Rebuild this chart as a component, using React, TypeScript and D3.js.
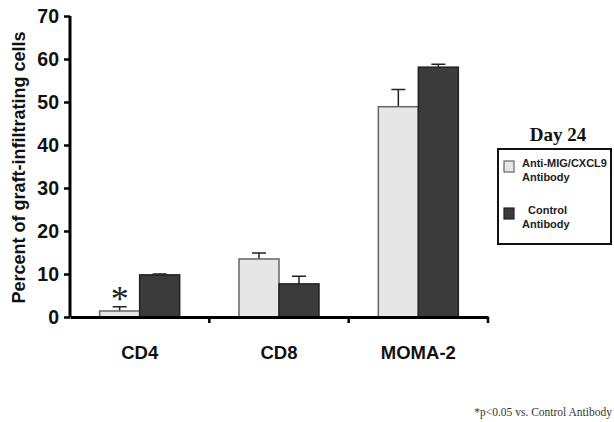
import React, { useRef, useEffect } from "react"
import * as d3 from "d3"

const categories = ["CD4", "CD8", "MOMA-2"]
const seriesNames = ["Anti-MIG/CXCL9 Antibody", "Control Antibody"]
const antiValues = [1.4, 13.5, 48.9]
const antiErrors = [1.0, 1.4, 4.0]
const controlValues = [9.8, 7.7, 58.1]
const controlErrors = [0.2, 1.8, 0.7]
const yTicks = [0, 10, 20, 30, 40, 50, 60, 70]

const colors = ["#e6e6e6", "#3b3b3b"]
const strokes = ["#666", "#222"]

function App() {
  const ref = useRef<SVGSVGElement>(null)

  useEffect(() => {
    const svg = d3.select(ref.current)
    svg.selectAll("*").remove()

    const margin = { left: 70, top: 16, right: 124, bottom: 105 }
    const width = 614
    const height = 422

    const x = d3
      .scaleBand()
      .domain(categories)
      .range([margin.left, 488])
      .paddingInner(0)
      .paddingOuter(0)

    const y = d3
      .scaleLinear()
      .domain([0, 70])
      .range([height - margin.bottom, margin.top])

    const barW = 40

    const rows = categories.map((c, i) => ({
      cat: c,
      vals: [
        { k: 0, v: antiValues[i], e: antiErrors[i] },
        { k: 1, v: controlValues[i], e: controlErrors[i] },
      ],
    }))

    const groups = svg
      .append("g")
      .selectAll("g")
      .data(rows)
      .join("g")
      .attr("transform", d => `translate(${x(d.cat)! + x.bandwidth() / 2 - barW},0)`)

    // error bars, upper half only
    groups
      .selectAll("path.err")
      .data(d => d.vals)
      .join("path")
      .attr("class", "err")
      .attr("d", d => {
        const cx = d.k * barW + barW / 2
        const top = y(d.v + d.e)
        return `M${cx},${y(d.v)}V${top}M${cx - 7},${top}H${cx + 7}`
      })
      .attr("stroke", "#222")
      .attr("stroke-width", 1.5)
      .attr("fill", "none")

    groups
      .selectAll("rect")
      .data(d => d.vals)
      .join("rect")
      .attr("x", d => d.k * barW)
      .attr("y", d => y(d.v))
      .attr("width", barW)
      .attr("height", d => y(0) - y(d.v))
      .attr("fill", d => colors[d.k])
      .attr("stroke", d => strokes[d.k])
      .attr("stroke-width", 1.5)

    // y axis
    const yAxis = svg
      .append("g")
      .attr("transform", `translate(${margin.left},0)`)
      .call(d3.axisLeft(y).tickValues(yTicks).tickSize(6).tickPadding(5))
    yAxis.select(".domain").attr("stroke-width", 3).attr("d", `M-0,${y(70)}V${y(0)}`)
    yAxis.selectAll(".tick line").attr("stroke-width", 2.5)
    yAxis
      .selectAll("text")
      .attr("font-family", "Liberation Sans, Arial, sans-serif")
      .attr("font-weight", "bold")
      .attr("font-size", 19.5)
      .attr("fill", "#111")

    // x axis
    const xAxis = svg
      .append("g")
      .attr("transform", `translate(0,${y(0)})`)
      .call(d3.axisBottom(x).tickValues([]).tickSizeOuter(0))
    xAxis.select(".domain").attr("stroke-width", 3)
    const boundaries = categories.map(c => x(c)! + x.bandwidth())
    xAxis
      .selectAll("line.b")
      .data(boundaries)
      .join("line")
      .attr("class", "b")
      .attr("x1", d => d)
      .attr("x2", d => d)
      .attr("y1", 0)
      .attr("y2", 6)
      .attr("stroke", "#000")
      .attr("stroke-width", 2.5)

    svg
      .append("g")
      .selectAll("text")
      .data(categories)
      .join("text")
      .attr("x", d => x(d)! + x.bandwidth() / 2)
      .attr("y", 359)
      .attr("text-anchor", "middle")
      .attr("font-family", "Liberation Sans, Arial, sans-serif")
      .attr("font-weight", "bold")
      .attr("font-size", 18.5)
      .attr("fill", "#111")
      .text(d => d)

    // y label
    svg
      .append("text")
      .attr("transform", `translate(25,${(y(0) + 16) / 2 + 1}) rotate(-90)`)
      .attr("text-anchor", "middle")
      .attr("font-family", "Liberation Sans, Arial, sans-serif")
      .attr("font-weight", "bold")
      .attr("font-size", 18)
      .attr("fill", "#111")
      .text("Percent of graft-infiltrating cells")

    // significance star
    svg
      .append("text")
      .attr("x", x("CD4")! + x.bandwidth() / 2 - barW / 2)
      .attr("y", y(antiValues[0] + antiErrors[0]) + 4)
      .attr("text-anchor", "middle")
      .attr("font-family", "Liberation Serif, Times New Roman, serif")
      .attr("font-size", 36)
      .attr("fill", "#222")
      .text("*")

    // legend
    svg
      .append("text")
      .attr("x", 558)
      .attr("y", 141)
      .attr("text-anchor", "middle")
      .attr("font-family", "Liberation Serif, Times New Roman, serif")
      .attr("font-weight", "bold")
      .attr("font-size", 19)
      .attr("fill", "#111")
      .text("Day 24")

    const lg = svg.append("g")
    lg.append("rect")
      .attr("x", 498)
      .attr("y", 149)
      .attr("width", 113)
      .attr("height", 95)
      .attr("fill", "#fff")
      .attr("stroke", "#111")
      .attr("stroke-width", 2)

    const legendRows = [
      { k: 0, sy: 161, lines: ["Anti-MIG/CXCL9", "Antibody"], lx: [522, 522], ly: [167, 181] },
      { k: 1, sy: 208, lines: ["Control", "Antibody"], lx: [528, 522], ly: [214, 228] },
    ]
    legendRows.forEach(r => {
      lg.append("rect")
        .attr("x", 504)
        .attr("y", r.sy)
        .attr("width", 10)
        .attr("height", 11)
        .attr("fill", colors[r.k])
        .attr("stroke", strokes[r.k])
        .attr("stroke-width", 1.2)
      r.lines.forEach((t, j) => {
        lg.append("text")
          .attr("x", r.lx[j])
          .attr("y", r.ly[j])
          .attr("font-family", "Liberation Sans, Arial, sans-serif")
          .attr("font-weight", "bold")
          .attr("font-size", 11)
          .attr("fill", "#222")
          .text(t)
      })
    })

    svg
      .append("text")
      .attr("x", 612)
      .attr("y", 416)
      .attr("text-anchor", "end")
      .attr("font-family", "Liberation Serif, Times New Roman, serif")
      .attr("font-size", 11.5)
      .attr("fill", "#333")
      .text("*p<0.05 vs. Control Antibody")

    svg.attr("width", width).attr("height", height)
  }, [])

  return (
    <svg
      ref={ref}
      width={614}
      height={422}
      style={{ position: "absolute", left: 0, top: 0, background: "#fff" }}
    ></svg>
  )
}

export default App
